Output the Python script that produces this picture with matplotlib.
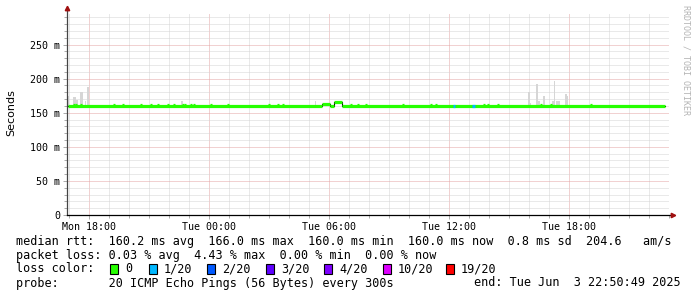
import matplotlib
matplotlib.use("Agg")
import matplotlib.pyplot as plt
from matplotlib.patches import Rectangle
from matplotlib.ticker import MultipleLocator

# ---------------- data (hours since Mon 00:00, values in ms) ----------------
x_tick_hours = [18, 24, 30, 36, 42]
x_tick_labels = ["Mon 18:00", "Tue 00:00", "Tue 06:00", "Tue 12:00", "Tue 18:00"]
y_tick_values = [0, 50, 100, 150, 200, 250]
y_tick_labels = ["0", "50 m", "100 m", "150 m", "200 m", "250 m"]

# median rtt as a step series (change points)
median_t = [16.95, 29.65, 30.05, 30.25, 30.65, 46.8]
median_v = [160.0, 162.6, 160.0, 165.5, 160.0, 160.0]

# short excursions of the median just above 160 ms
bump_start = [17.2, 17.3, 17.55, 19.2, 19.65, 20.55, 21.05, 21.4, 21.9, 22.2,
              22.65, 22.75, 23.05, 23.2, 24.05, 24.9, 26.95, 27.4, 27.65,
              31.05, 31.4, 31.8, 33.65, 35.05, 35.3, 37.7, 37.9, 38.4,
              40.55, 41.05, 43.05]
bump_end = [h + 0.1 for h in bump_start]
bump_value = 162.0

# segments with 1/20 packet loss
loss_start = [36.2, 37.15]
loss_end = [36.3, 37.3]
loss_value = [160.0, 160.0]

# smoke (max ping spread) above the median
smoke_start = [16.9, 17.2, 17.33, 17.55, 17.8, 17.9, 22.6, 29.3,
               39.95, 40.05, 40.35, 40.45, 40.7, 41.15, 41.25, 41.35, 41.8, 41.9]
smoke_end = [17.0, 17.33, 17.43, 17.7, 17.85, 18.0, 22.7, 29.35,
             40.05, 40.1, 40.45, 40.55, 40.8, 41.25, 41.3, 41.55, 41.9, 41.95]
smoke_top = [174, 173, 168, 181, 167, 187, 167, 167,
             180, 164, 192, 167, 174, 167, 197, 167, 177, 175]
smoke_base = 160.0

loss_colors = ["#26ff00", "#00b8ff", "#0059ff", "#5e00ff", "#7e00ff", "#dd00ff", "#ff0000"]
loss_labels = ["0", "1/20", "2/20", "3/20", "4/20", "10/20", "19/20"]

stats_lines = [
    "median rtt:  160.2 ms avg  166.0 ms max  160.0 ms min  160.0 ms now  0.8 ms sd  204.6   am/s",
    "packet loss: 0.03 % avg  4.43 % max  0.00 % min  0.00 % now",
]
probe_text = "probe:       20 ICMP Echo Pings (56 Bytes) every 300s"
end_text = "end: Tue Jun  3 22:50:49 2025"

# ---------------- figure ----------------
W, H = 697, 297
fig = plt.figure(figsize=(W / 100, H / 100), dpi=100)
fig.patch.set_facecolor("white")

L, R, T, B = 67, 669, 13, 215
ax = fig.add_axes([L / W, 1 - B / H, (R - L) / W, (B - T) / H])
ax.set_xlim(16.9, 47.0)
ax.set_ylim(0, (B - T) / 0.682)

mono = "DejaVu Sans Mono"

# grid
ax.xaxis.set_minor_locator(MultipleLocator(1))
ax.yaxis.set_minor_locator(MultipleLocator(10))
ax.set_xticks(x_tick_hours)
ax.set_xticklabels(x_tick_labels, family=mono, fontsize=7.2)
ax.set_yticks(y_tick_values)
ax.set_yticklabels(y_tick_labels, family=mono, fontsize=7.2)
ax.grid(which="minor", color="#d4d4d4", lw=0.72, linestyle=(0, (1, 1)))
ax.grid(which="major", color="#e4a4a4", lw=0.72, linestyle=(0, (1, 1)))
ax.set_axisbelow(True)
ax.tick_params(which="both", direction="out", color="#aaaaaa", width=0.7)
ax.tick_params(which="major", length=3, pad=2)
ax.tick_params(which="minor", length=2)
ax.tick_params(axis="y", which="major", pad=2)

for s in ["top", "right", "left", "bottom"]:
    ax.spines[s].set_visible(False)

# smoke
ax.bar(smoke_start, [t - smoke_base for t in smoke_top], bottom=smoke_base,
       width=[e - s for s, e in zip(smoke_start, smoke_end)], align="edge",
       color="#d6d6d6", lw=0, zorder=2)

# median: black step underneath, green horizontals on top
ax.step(median_t, median_v, where="post", color="black", lw=0.8, zorder=3)
ax.hlines(median_v[:-1], median_t[:-1], median_t[1:], color=loss_colors[0], lw=2.3, zorder=4)
ax.hlines([bump_value] * len(bump_start), bump_start, bump_end, color=loss_colors[0], lw=2.3, zorder=4)
ax.hlines(loss_value, loss_start, loss_end, color=loss_colors[1], lw=2.3, zorder=5)

# axis lines with arrows
ax.plot([0, 0], [0, 1.02], transform=ax.transAxes, color="#444444", lw=0.9, clip_on=False, zorder=6)
ax.plot([0, 1.006], [0, 0], transform=ax.transAxes, color="black", lw=0.9, clip_on=False, zorder=6)
ax.plot([0], [1.025], marker="^", color="#a01010", ms=3.2, transform=ax.transAxes, clip_on=False, zorder=7)
ax.plot([1.007], [0], marker=">", color="#a01010", ms=3.2, transform=ax.transAxes, clip_on=False, zorder=7)

# labels
fig.text(11 / W, 1 - 113 / H, "Seconds", rotation=90, ha="center", va="center",
         fontsize=8, family="DejaVu Sans")
fig.text(686 / W, 1 - 60 / H, "RRDTOOL / TOBI OETIKER", rotation=270, ha="center", va="center",
         fontsize=6, family=mono, color="#b4b4b4")

# legend / stats text
fs = 8.5
fig.text(16 / W, 1 - 241 / H, stats_lines[0], family=mono, fontsize=fs, va="center")
fig.text(16 / W, 1 - 255 / H, stats_lines[1], family=mono, fontsize=fs, va="center")
fig.text(16 / W, 1 - 269 / H, "loss color:", family=mono, fontsize=fs, va="center")
square_x = [110, 149, 207, 266, 324, 383, 446]
for sx, c, lab in zip(square_x, loss_colors, loss_labels):
    fig.patches.append(Rectangle((sx / W, 1 - 274 / H), 8 / W, 10 / H,
                                 transform=fig.transFigure, facecolor=c,
                                 edgecolor="black", lw=0.8))
    fig.text((sx + 15) / W, 1 - 269 / H, lab, family=mono, fontsize=fs, va="center")
fig.text(16 / W, 1 - 283 / H, probe_text, family=mono, fontsize=fs, va="center")
fig.text(681 / W, 1 - 283 / H, end_text, family=mono, fontsize=fs, va="center", ha="right")

fig.savefig("out.png", dpi=100, facecolor="white")
